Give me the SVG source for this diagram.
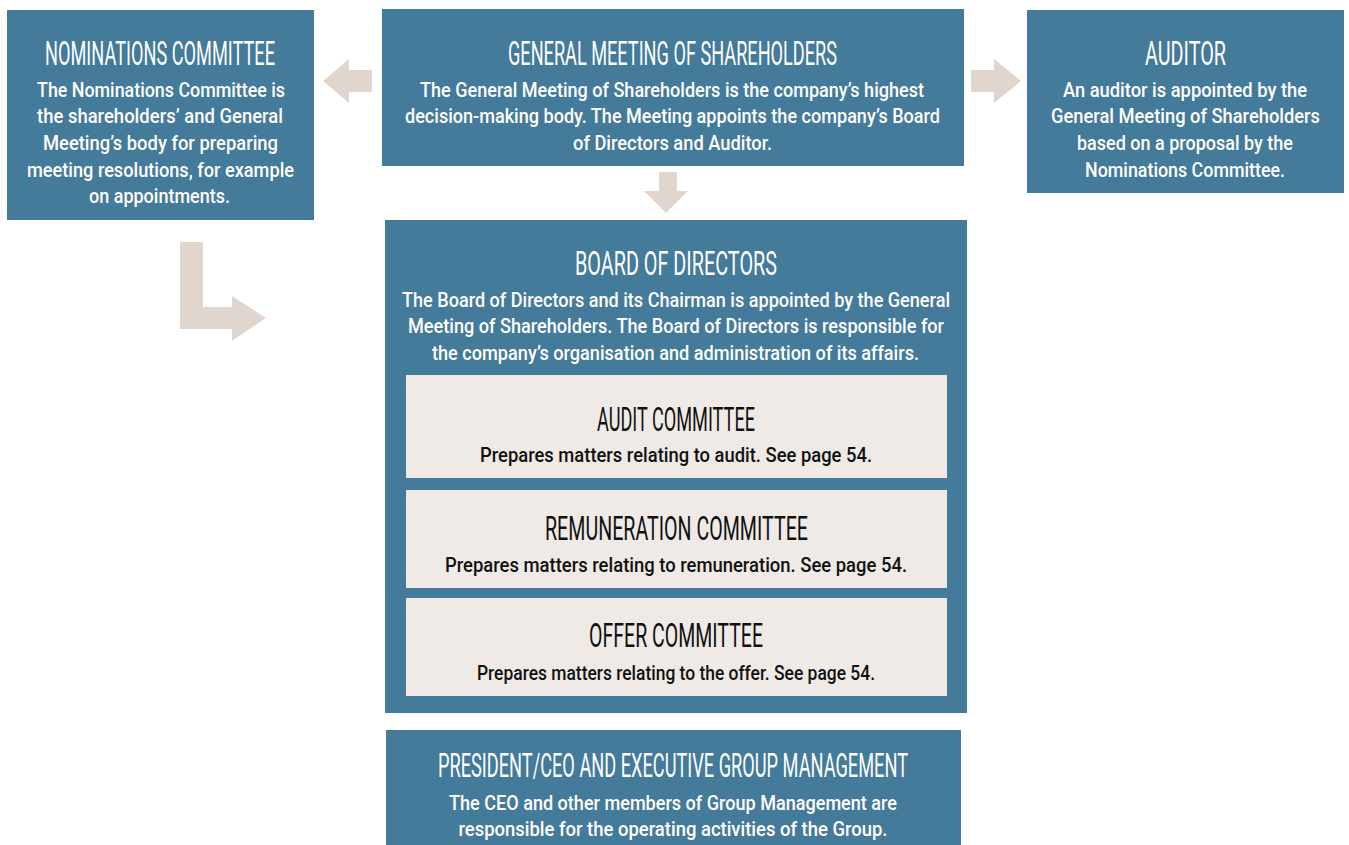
<svg xmlns="http://www.w3.org/2000/svg" width="1349" height="845" viewBox="0 0 1349 845">
<style>
.box{fill:#447a9a}
.sub{fill:#efeae6}
.arrow{fill:#e0d6cd}
.h{font-family:Roboto,"Liberation Sans",sans-serif;font-weight:400;font-size:33px;fill:#fff;text-anchor:middle}
.b{font-family:Roboto,"Liberation Sans",sans-serif;font-weight:500;font-size:19.5px;fill:#fff;text-anchor:middle}
.dk{fill:#111}
</style>
<rect width="1349" height="845" fill="#fff"/>
<g id="connectors">
<polygon class="arrow" points="372,70 349,70 349,59 323,81 349,103 349,92 372,92"/>
<polygon class="arrow" points="971,70 994,70 994,59 1021,81 994,103 994,92 971,92"/>
<polygon class="arrow" points="659,172 677,172 677,191 688,191 666,213 644,191 659,191"/>
<polygon class="arrow" points="180,242 203,242 203,307 232,307 232,296 266,318 232,341 232,329 180,329"/>
</g>
<g id="nominations">
<rect class="box" x="7" y="10" width="307" height="210"/>
<text class="h" x="160" y="65" textLength="230" lengthAdjust="spacingAndGlyphs">NOMINATIONS COMMITTEE</text>
<text class="b" x="161" y="97" textLength="248" lengthAdjust="spacingAndGlyphs">The Nominations Committee is</text>
<text class="b" x="160" y="123" textLength="246" lengthAdjust="spacingAndGlyphs">the shareholders’ and General</text>
<text class="b" x="160.5" y="150" textLength="235" lengthAdjust="spacingAndGlyphs">Meeting’s body for preparing</text>
<text class="b" x="160.5" y="177" textLength="267" lengthAdjust="spacingAndGlyphs">meeting resolutions, for example</text>
<text class="b" x="159.5" y="203" textLength="141" lengthAdjust="spacingAndGlyphs">on appointments.</text>
</g>
<g id="general-meeting">
<rect class="box" x="382" y="9" width="582" height="157"/>
<text class="h" x="672.5" y="65" textLength="329" lengthAdjust="spacingAndGlyphs">GENERAL MEETING OF SHAREHOLDERS</text>
<text class="b" x="672" y="97" textLength="504" lengthAdjust="spacingAndGlyphs">The General Meeting of Shareholders is the company’s highest</text>
<text class="b" x="672.5" y="123" textLength="535" lengthAdjust="spacingAndGlyphs">decision-making body. The Meeting appoints the company’s Board</text>
<text class="b" x="672.5" y="150" textLength="199" lengthAdjust="spacingAndGlyphs">of Directors and Auditor.</text>
</g>
<g id="auditor">
<rect class="box" x="1027" y="10" width="317" height="183"/>
<text class="h" x="1185.5" y="65" textLength="81" lengthAdjust="spacingAndGlyphs">AUDITOR</text>
<text class="b" x="1185" y="97" textLength="244" lengthAdjust="spacingAndGlyphs">An auditor is appointed by the</text>
<text class="b" x="1185.5" y="123" textLength="269" lengthAdjust="spacingAndGlyphs">General Meeting of Shareholders</text>
<text class="b" x="1185" y="150" textLength="216" lengthAdjust="spacingAndGlyphs">based on a proposal by the</text>
<text class="b" x="1185" y="177" textLength="200" lengthAdjust="spacingAndGlyphs">Nominations Committee.</text>
</g>
<g id="board">
<rect class="box" x="385" y="220" width="582" height="493"/>
<text class="h" x="676" y="275" textLength="202" lengthAdjust="spacingAndGlyphs">BOARD OF DIRECTORS</text>
<text class="b" x="676" y="307" textLength="548" lengthAdjust="spacingAndGlyphs">The Board of Directors and its Chairman is appointed by the General</text>
<text class="b" x="676" y="333" textLength="536" lengthAdjust="spacingAndGlyphs">Meeting of Shareholders. The Board of Directors is responsible for</text>
<text class="b" x="675.5" y="360" textLength="487" lengthAdjust="spacingAndGlyphs">the company’s organisation and administration of its affairs.</text>
</g>
<g id="audit-committee">
<rect class="sub" x="406" y="375" width="541" height="103"/>
<text class="h dk" x="676" y="431" textLength="158" lengthAdjust="spacingAndGlyphs">AUDIT COMMITTEE</text>
<text class="b dk" x="676" y="462" textLength="392" lengthAdjust="spacingAndGlyphs">Prepares matters relating to audit. See page 54.</text>
</g>
<g id="remuneration-committee">
<rect class="sub" x="406" y="490" width="541" height="98"/>
<text class="h dk" x="676.5" y="540" textLength="263" lengthAdjust="spacingAndGlyphs">REMUNERATION COMMITTEE</text>
<text class="b dk" x="676" y="572" textLength="462" lengthAdjust="spacingAndGlyphs">Prepares matters relating to remuneration. See page 54.</text>
</g>
<g id="offer-committee">
<rect class="sub" x="406" y="598" width="541" height="98"/>
<text class="h dk" x="676" y="647" textLength="174" lengthAdjust="spacingAndGlyphs">OFFER COMMITTEE</text>
<text class="b dk" x="676" y="680" textLength="398" lengthAdjust="spacingAndGlyphs">Prepares matters relating to the offer. See page 54.</text>
</g>
<g id="president">
<rect class="box" x="386" y="730" width="575" height="115"/>
<text class="h" x="673" y="777" textLength="470" lengthAdjust="spacingAndGlyphs">PRESIDENT/CEO AND EXECUTIVE GROUP MANAGEMENT</text>
<text class="b" x="673" y="810" textLength="448" lengthAdjust="spacingAndGlyphs">The CEO and other members of Group Management are</text>
<text class="b" x="673" y="836" textLength="429" lengthAdjust="spacingAndGlyphs">responsible for the operating activities of the Group.</text>
</g>
</svg>
